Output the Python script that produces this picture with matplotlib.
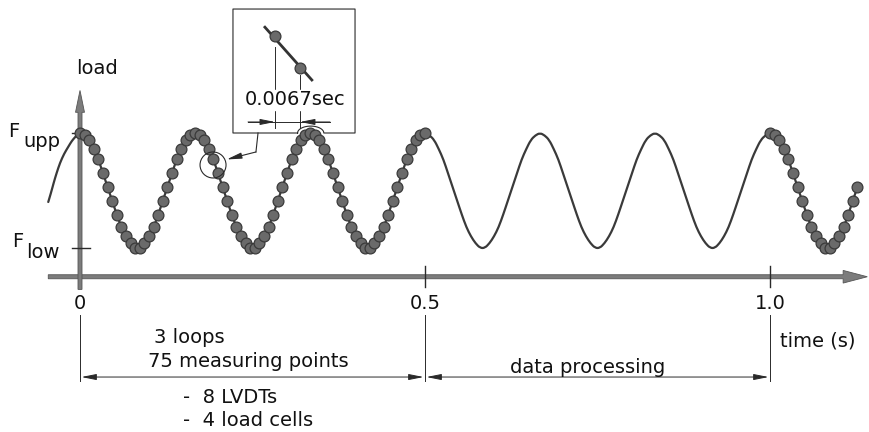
import numpy as np
import matplotlib.pyplot as plt
from matplotlib.patches import FancyArrow, Ellipse, PathPatch
from matplotlib.path import Path

# normalised load of one loop (0 = F_low, 1 = F_upp), read at the 25 samples per loop
loop_load = [1.00, 0.98, 0.94, 0.86, 0.77, 0.65, 0.53, 0.41, 0.29, 0.18, 0.10, 0.04, 0.00,
             0.00, 0.04, 0.10, 0.18, 0.29, 0.41, 0.53, 0.65, 0.77, 0.86, 0.94, 0.98]
n_loops = 6
tail_samples = 20          # samples after the sixth loop
loop_time = 0.5 / 3        # 3 loops in 0.5 s
measured_blocks = [(0, 76), (150, 170)]   # sample index ranges that are measured

# ramp-up before t = 0
lead_time = [-0.046, -0.042, -0.038, -0.034, -0.029, -0.023, -0.017, -0.012, -0.007, -0.003]
lead_load = [0.40, 0.48, 0.57, 0.65, 0.74, 0.82, 0.88, 0.93, 0.965, 0.99]

tick_times = [0.0, 0.5, 1.0]
tick_labels = ['0', '0.5', '1.0']

load = np.array(loop_load * n_loops + loop_load[:tail_samples])
time = np.arange(len(load)) * loop_time / len(loop_load)

AXIS = '#7c7c7c'
INK = '#2a2a2a'
FONT = dict(family='DejaVu Sans', color='#111111', fontsize=14)
DOT = dict(ms=7.8, mfc='#6a6a6a', mec='#3a3a3a', mew=0.9)


def smooth_path(xs, ys):
    """Quadratic B-spline style path through the read samples."""
    pts = np.column_stack([xs, ys])
    verts = [pts[0]]
    codes = [Path.MOVETO]
    for i in range(1, len(pts) - 1):
        verts += [pts[i], (pts[i] + pts[i + 1]) / 2]
        codes += [Path.CURVE3, Path.CURVE3]
    verts.append(pts[-1])
    codes.append(Path.LINETO)
    return Path(verts, codes)


fig = plt.figure(figsize=(8.69, 4.32), dpi=100)
ax = fig.add_axes([0, 0, 1, 1])
ax.set_xlim(-80 / 690, 789 / 690)
ax.set_ylim(-1.6, 248 / 115)
ax.axis('off')

# axes of the diagram
axis_y = -0.25
ax.add_patch(FancyArrow(-0.046, axis_y, 1.187 - 0.035, 0, width=0.035, head_width=0.11,
                        head_length=0.035, length_includes_head=False,
                        facecolor=AXIS, edgecolor='#555555', lw=0.6, zorder=2))
ax.add_patch(FancyArrow(0, -0.36, 0, 1.73 - 0.19, width=0.0058, head_width=0.013,
                        head_length=0.19, length_includes_head=False,
                        facecolor=AXIS, edgecolor='#555555', lw=0.6, zorder=2))

for t in tick_times[1:]:
    ax.plot([t, t], [-0.16, -0.34], color=INK, lw=1.0, zorder=2)
for lv in [0.0, 1.0]:
    ax.plot([-0.012, 0.014], [lv, lv], color=INK, lw=1.0, zorder=2)

# load signal and measuring points
ax.add_patch(PathPatch(smooth_path(np.concatenate([lead_time, time]),
                                   np.concatenate([lead_load, load])),
                       fill=False, edgecolor='#3a3a3a', lw=1.6, zorder=3,
                       capstyle='round'))
for i0, i1 in measured_blocks:
    ax.plot(time[i0:i1], load[i0:i1], 'o', zorder=4, **DOT)

# labels of axes
ax.text(0.024, 1.56, 'load', ha='center', va='center', **FONT)
ax.text(-0.104, 1.017, 'F', ha='left', va='center', **FONT)
ax.text(-0.0826, 0.93, 'upp', ha='left', va='center', **FONT)
ax.text(-0.099, 0.06, 'F', ha='left', va='center', **FONT)
ax.text(-0.0775, -0.035, 'low', ha='left', va='center', **FONT)
for t, lab in zip(tick_times, tick_labels):
    ax.text(t, -0.48, lab, ha='center', va='center', **FONT)
ax.text(1.0145, -0.81, 'time (s)', ha='left', va='center', **FONT)

# dimension lines below the time axis
for t in tick_times:
    ax.plot([t, t], [-0.58, -1.16], color=INK, lw=0.7)
dim_y = -1.122
for t0, t1 in [(0.0, 0.5), (0.5, 1.0)]:
    ax.annotate('', xy=(t1, dim_y), xytext=(t0, dim_y),
                arrowprops=dict(arrowstyle='<|-|>,head_length=0.9,head_width=0.18',
                                color=INK, lw=0.7, shrinkA=1, shrinkB=1))
ax.text(0.159, -0.775, '3 loops', ha='center', va='center', **FONT)
ax.text(0.2435, -0.985, '75 measuring points', ha='center', va='center', **FONT)
ax.text(0.149, -1.296, '-  8 LVDTs', ha='left', va='center', **FONT)
ax.text(0.149, -1.496, '-  4 load cells', ha='left', va='center', **FONT)
ax.text(0.736, -1.035, 'data processing', ha='center', va='center', **FONT)

# inset box with the sampling interval, its bottom edge bending over the second peak
peak_t = 2 * loop_time
bump = np.linspace(0, np.pi, 30)
box_t = np.concatenate([[peak_t - 0.018, 0.2217, 0.2217, 0.3986, 0.3986, peak_t + 0.02],
                        peak_t + 0.001 + 0.019 * np.cos(bump)])
box_l = np.concatenate([[1.0, 1.0, 2.078, 2.078, 1.0, 1.0],
                        1.0 + 0.06 * np.sin(bump)])
ax.plot(box_t, box_l, color=INK, lw=0.8, zorder=5)

ax.plot([0.268, 0.336], [1.92, 1.461], color='#333333', lw=2.0, zorder=5)
ax.plot([0.2826, 0.3188], [1.843, 1.565], 'o', zorder=6, **DOT)
ax.plot([0.2826, 0.2826], [1.75, 1.04], color=INK, lw=0.7, zorder=5)
ax.plot([0.3188, 0.3188], [1.50, 1.04], color=INK, lw=0.7, zorder=5)
ax.add_patch(plt.Rectangle((0.2435, 1.2), 0.12, 0.17, color='white', zorder=5.5))
ax.text(0.3116, 1.287, '0.0067sec', ha='center', va='center', zorder=6, **FONT)
ax.plot([0.2435, 0.3623], [1.096, 1.096], color=INK, lw=0.7, zorder=5)
ax.annotate('', xy=(0.2826, 1.096), xytext=(0.2435, 1.096),
            arrowprops=dict(arrowstyle='-|>,head_length=0.9,head_width=0.18',
                            color=INK, lw=0.7, shrinkA=0, shrinkB=0))
ax.annotate('', xy=(0.3188, 1.096), xytext=(0.3623, 1.096),
            arrowprops=dict(arrowstyle='-|>,head_length=0.9,head_width=0.18',
                            color=INK, lw=0.7, shrinkA=0, shrinkB=0))

# leader to the magnified spot
ax.add_patch(Ellipse((0.1928, 0.722), 2 * 13 / 690, 2 * 13 / 115, fill=False,
                     edgecolor=INK, lw=0.8, zorder=5))
ax.plot([0.258, 0.255], [1.0, 0.835], color=INK, lw=0.8, zorder=5)
ax.annotate('', xy=(0.2125, 0.77), xytext=(0.255, 0.835),
            arrowprops=dict(arrowstyle='-|>,head_length=0.9,head_width=0.18',
                            color=INK, lw=0.8, shrinkA=0, shrinkB=0))

fig.savefig('out.png', dpi=100, facecolor='white')
